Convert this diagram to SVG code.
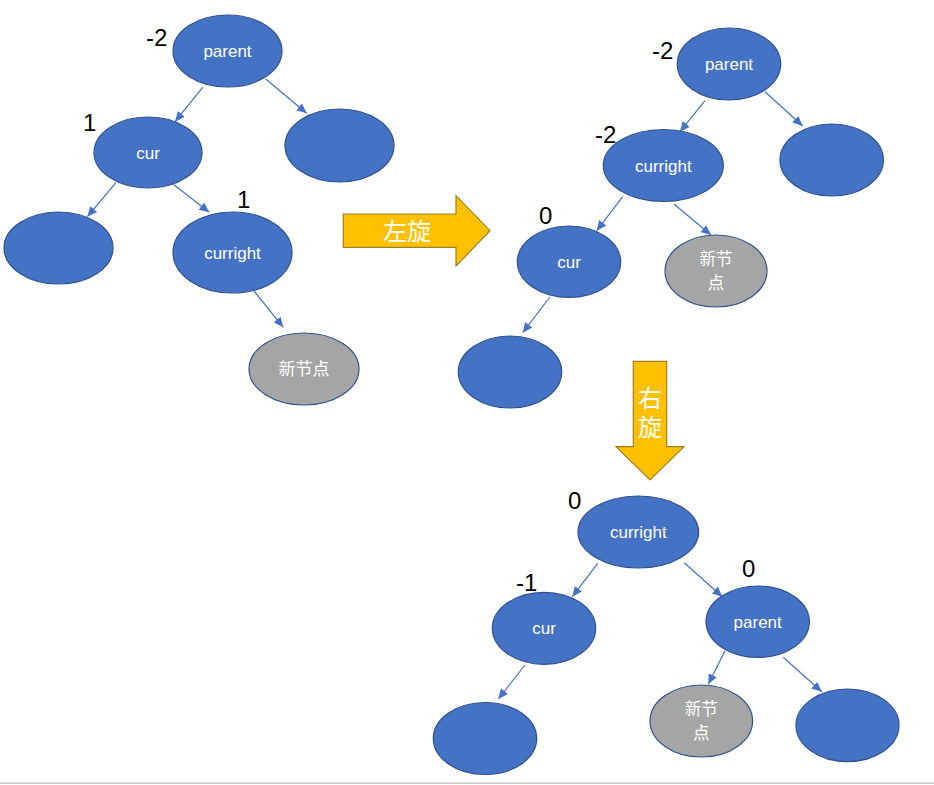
<svg xmlns="http://www.w3.org/2000/svg" width="934" height="785" viewBox="0 0 934 785">
<style>
.n{fill:#4472C4;stroke:#2F528F;stroke-width:1.2}
.g{fill:#A5A5A5;stroke:#2F528F;stroke-width:1.2}
.t{fill:#FFFFFF;font-family:"Liberation Sans","Noto Sans CJK SC",sans-serif;font-size:17px;text-anchor:middle}
.c{fill:#FFFFFF;font-family:"Noto Sans CJK SC",sans-serif;font-size:17px;text-anchor:middle}
.c2{fill:#FFFFFF;font-family:"Noto Sans CJK SC",sans-serif;font-size:16.5px;text-anchor:middle}
.b{fill:#000000;font-family:"Liberation Sans",sans-serif;font-size:24px}
.e line{stroke:#4472C4;stroke-width:1.2;marker-end:url(#ah)}
.ar{fill:#FFC000;stroke:#A08020;stroke-width:1.2}
.at{fill:#FFFFFF;font-family:"Noto Sans CJK SC",sans-serif;font-size:24px;text-anchor:middle}
.vt{writing-mode:vertical-rl;letter-spacing:5px}
</style>
<defs>
<marker id="ah" markerUnits="userSpaceOnUse" markerWidth="12" markerHeight="10" refX="10" refY="4.5" orient="auto">
<path d="M0,0 L10,4.5 L0,9 Z" fill="#4472C4"/>
</marker>
</defs>
<rect x="0" y="0" width="934" height="785" fill="#FFFFFF"/>
<g id="connectors" class="e">
<line x1="202.7" y1="87.3" x2="175" y2="121.7"/>
<line x1="265.7" y1="79" x2="306.7" y2="113.3"/>
<line x1="116" y1="182.7" x2="87.3" y2="216.7"/>
<line x1="173.3" y1="184.3" x2="209.3" y2="212.3"/>
<line x1="254" y1="291" x2="283.3" y2="327.3"/>
<line x1="705" y1="100.7" x2="680" y2="131.7"/>
<line x1="765" y1="91.7" x2="802.7" y2="126"/>
<line x1="622.7" y1="196.7" x2="596.7" y2="230.7"/>
<line x1="674" y1="204" x2="711" y2="235"/>
<line x1="550" y1="297" x2="522.7" y2="332.7"/>
<line x1="597.7" y1="563.3" x2="572.3" y2="596.7"/>
<line x1="684.3" y1="562.7" x2="722.3" y2="596.7"/>
<line x1="525" y1="665" x2="498.3" y2="699"/>
<line x1="725" y1="650.7" x2="708.3" y2="684.3"/>
<line x1="783.3" y1="657.3" x2="821.7" y2="691.7"/>
</g>
<g id="t1-parent"><ellipse class="n" cx="227.5" cy="51" rx="54.5" ry="36"/><text class="t" x="227.5" y="57">parent</text></g>
<g id="t1-right"><ellipse class="n" cx="339.5" cy="145.5" rx="54.5" ry="36.5"/></g>
<g id="t1-cur"><ellipse class="n" cx="148" cy="152.5" rx="54" ry="35.5"/><text class="t" x="148" y="158.5">cur</text></g>
<g id="t1-left"><ellipse class="n" cx="58.5" cy="248" rx="54.5" ry="36"/></g>
<g id="t1-curright"><ellipse class="n" cx="232.5" cy="252.5" rx="59.5" ry="40.5"/><text class="t" x="232.5" y="258.5">curright</text></g>
<g id="t1-new"><ellipse class="g" cx="304" cy="369" rx="55" ry="36"/><text class="c" x="304" y="375">新节点</text></g>
<g id="t1-labels">
<text class="b" x="146" y="46">-2</text>
<text class="b" x="83" y="131">1</text>
<text class="b" x="237" y="208">1</text>
</g>
<g id="arrow-left-rot"><polygon class="ar" points="343.3,214 456,214 456,195.7 490,230.7 456,266 456,247.3 343.3,247.3"/><text class="at" x="407" y="240">左旋</text></g>
<g id="t2-parent"><ellipse class="n" cx="729" cy="64" rx="51.7" ry="36"/><text class="t" x="729" y="70">parent</text></g>
<g id="t2-right"><ellipse class="n" cx="831.7" cy="160" rx="51.7" ry="36"/></g>
<g id="t2-curright"><ellipse class="n" cx="663.3" cy="165.5" rx="60" ry="36"/><text class="t" x="663.3" y="171.5">curright</text></g>
<g id="t2-cur"><ellipse class="n" cx="569" cy="261.7" rx="51.7" ry="35.7"/><text class="t" x="569" y="267.7">cur</text></g>
<g id="t2-new"><ellipse class="g" cx="716" cy="271" rx="51" ry="36"/><text class="c2" x="716" y="265.3">新节</text><text class="c2" x="716" y="289.3">点</text></g>
<g id="t2-leftleft"><ellipse class="n" cx="510" cy="372" rx="51.7" ry="36"/></g>
<g id="t2-labels">
<text class="b" x="652" y="59">-2</text>
<text class="b" x="595" y="143">-2</text>
<text class="b" x="539" y="224">0</text>
</g>
<g id="arrow-right-rot"><polygon class="ar" points="633.3,361.3 666.7,361.3 666.7,446.7 684,446.7 650,480 616,446.7 633.3,446.7"/><text class="at vt" x="650" y="415">右旋</text></g>
<g id="t3-curright"><ellipse class="n" cx="638.3" cy="532" rx="60.3" ry="36"/><text class="t" x="638.3" y="538">curright</text></g>
<g id="t3-cur"><ellipse class="n" cx="544" cy="628.3" rx="51.7" ry="36"/><text class="t" x="544" y="634.3">cur</text></g>
<g id="t3-parent"><ellipse class="n" cx="757.7" cy="621.7" rx="51.7" ry="35.7"/><text class="t" x="757.7" y="627.7">parent</text></g>
<g id="t3-leftleft"><ellipse class="n" cx="485" cy="738.5" rx="51.7" ry="36"/></g>
<g id="t3-new"><ellipse class="g" cx="701.3" cy="721" rx="51.3" ry="36"/><text class="c2" x="701.3" y="715">新节</text><text class="c2" x="701.3" y="739">点</text></g>
<g id="t3-right"><ellipse class="n" cx="847.5" cy="725.3" rx="51.5" ry="36.3"/></g>
<g id="t3-labels">
<text class="b" x="568" y="509">0</text>
<text class="b" x="516" y="591">-1</text>
<text class="b" x="742" y="577">0</text>
</g>
<rect x="0" y="782.5" width="934" height="1.5" fill="#C8C8CC"/>
</svg>
